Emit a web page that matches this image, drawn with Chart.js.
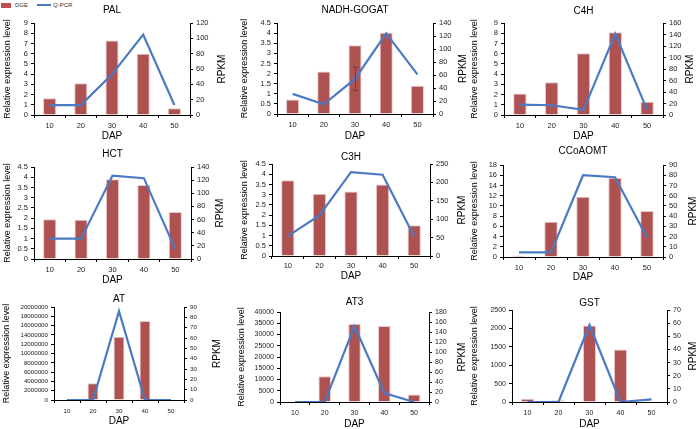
<!DOCTYPE html>
<html>
<head>
<meta charset="utf-8">
<script src="https://cdn.jsdelivr.net/npm/chart.js@4"></script>
<style>
	body { margin: 0; background: #fff; }
	#painel { position: relative; width: 700px; height: 429px; overflow: hidden; font-family: "Liberation Sans", Arial, sans-serif; }
	#painel canvas { position: absolute; }
	.leg { position: absolute; font-size: 6px; line-height: 6px; color: #333; }
</style>
</head>
<body>
<div id="painel">
	<div style="position:absolute;left:1px;top:3px;width:10px;height:5px;background:#c0504d"></div>
	<span class="leg" style="left:15px;top:2px">DGE</span>
	<div style="position:absolute;left:37px;top:4px;width:14px;height:2px;background:#4a7ac4"></div>
	<span class="leg" style="left:53px;top:2px">Q-PCR</span>
</div>
<script>
var dap = ['10', '20', '30', '40', '50'];

var palDge = [1.65, 3.1, 7.3, 6.0, 0.65];
var palQpcr = [13, 13, 53, 105, 13];

var nadhDge = [0.72, 2.1, 3.4, 4.02, 1.4];
var nadhQpcr = [31, 15, 54, 124, 61];
var nadhErro = [null, null, 18, null, null];

var c4hDge = [2.1, 3.2, 6.05, 8.1, 1.3];
var c4hQpcr = [18, 17, 9, 141, 9];

var hctDge = [1.95, 1.92, 3.9, 3.62, 2.3];
var hctQpcr = [31, 31, 127, 123, 15];

var c3hDge = [3.7, 3.05, 3.15, 3.5, 1.5];
var c3hQpcr = [54, 110, 228, 221, 53];

var ccoaomtDge = [0.3, 6.9, 11.8, 15.5, 9.0];
var ccoaomtQpcr = [4.6, 4.6, 80, 78, 19];

var atDge = [0, 3600000, 13600000, 17000000, 0];
var atQpcr = [0, 0, 86, 0, 0];

var at3Dge = [0, 11400, 34700, 33800, 3300];
var at3Qpcr = [0, 0, 152, 18, 0];

var gstDge = [90, 45, 2080, 1430, 0];
var gstQpcr = [0, 0, 58.6, 0, 2];

// eixo esquerdo [max, passo] e eixo direito [max, passo]
var eixoEsq = [[9, 1], [4.5, 0.5], [9, 1], [4.5, 0.5], [4.5, 0.5], [18, 2], [20000000, 2000000], [40000, 5000], [2500, 500]];
var eixoDir = [[120, 20], [140, 20], [160, 20], [140, 20], [250, 50], [90, 10], [90, 10], [180, 20], [70, 10]];

var nomes = ['PAL', 'NADH-GOGAT', 'C4H', 'HCT', 'C3H', 'CCoAOMT', 'AT', 'AT3', 'GST'];
var dge = [palDge, nadhDge, c4hDge, hctDge, c3hDge, ccoaomtDge, atDge, at3Dge, gstDge];
var qpcr = [palQpcr, nadhQpcr, c4hQpcr, hctQpcr, c3hQpcr, ccoaomtQpcr, atQpcr, at3Qpcr, gstQpcr];
var erros = [null, nadhErro, null, null, null, null, null, null, null];

// posicoes na pagina: celula [x, y, w, h], area [l, t, r, b], titulo y, rotulos x y, DAP y, titulo esq x, titulo dir x, fonte ticks
var layout = [
	{ cel: [0, 0, 236, 142], area: [34, 23, 190, 115], tit: 10, rot: 125, dap: 136, te: 8, td: 222, fs: 7.5 },
	{ cel: [232, 0, 240, 142], area: [277, 23, 433, 114], tit: 10, rot: 124, dap: 136, te: 245, td: 463, fs: 7.5 },
	{ cel: [464, 0, 236, 142], area: [504, 23, 663, 115], tit: 11, rot: 125, dap: 136, te: 475, td: 690, fs: 7.5 },
	{ cel: [0, 142, 236, 142], area: [34, 167, 191, 259], tit: 154, rot: 269, dap: 280, te: 8, td: 220, fs: 7.5 },
	{ cel: [232, 142, 240, 142], area: [272, 164, 430, 256], tit: 157, rot: 265, dap: 276, te: 245, td: 462, fs: 7.5 },
	{ cel: [464, 142, 236, 142], area: [503, 165, 663, 257], tit: 151, rot: 267, dap: 277, te: 475, td: 693, fs: 7.5 },
	{ cel: [0, 284, 236, 145], area: [54, 307, 184, 400], tit: 299, rot: 411, dap: 421, te: 7, td: 217, fs: 6.2 },
	{ cel: [232, 284, 240, 145], area: [280, 312, 429, 402], tit: 302, rot: 412, dap: 424, te: 242, td: 462, fs: 7 },
	{ cel: [464, 284, 236, 145], area: [512, 310, 667, 402], tit: 303, rot: 412, dap: 424, te: 475, td: 693, fs: 7 }
];

var FONTE = '"Liberation Sans", Arial, sans-serif';

function formata(v) {
	return String(Math.round(v * 100) / 100);
}

function criarGrafico(i) {
	var g = layout[i];
	var cx = g.cel[0], cy = g.cel[1], cw = g.cel[2], ch = g.cel[3];
	var cv = document.createElement('canvas');
	cv.width = cw;
	cv.height = ch;
	cv.style.left = cx + 'px';
	cv.style.top = cy + 'px';
	document.getElementById('painel').appendChild(cv);

	var erro = erros[i];
	var extras = {
		id: 'extras' + i,
		afterDatasetsDraw: function(chart) {
			var c = chart.ctx, a = chart.chartArea;
			c.save();
			if (erro) {
				c.strokeStyle = '#4d4d4d';
				c.lineWidth = 1;
				erro.forEach(function(e, k) {
					if (e == null) return;
					var x = Math.round(chart.scales.x.getPixelForValue(k)) + 0.5;
					var y1 = chart.scales.y1.getPixelForValue(qpcr[i][k] + e);
					var y2 = chart.scales.y1.getPixelForValue(qpcr[i][k] - e);
					c.beginPath();
					c.moveTo(x, y1); c.lineTo(x, y2);
					c.moveTo(x - 2.5, y1); c.lineTo(x + 2.5, y1);
					c.moveTo(x - 2.5, y2); c.lineTo(x + 2.5, y2);
					c.stroke();
				});
			}
			c.translate(g.td - cx, (a.top + a.bottom) / 2);
			c.rotate(-Math.PI / 2);
			c.font = '10px ' + FONTE;
			c.textAlign = 'center';
			c.textBaseline = 'middle';
			c.fillStyle = '#000';
			c.fillText('RPKM', 0, 0);
			c.restore();
		}
	};

	var ticksFonte = { size: g.fs, family: FONTE };
	var tituloFonte = { size: 10, family: FONTE };

	new Chart(cv.getContext('2d'), {
		type: 'bar',
		data: {
			labels: dap,
			datasets: [{
				type: 'line',
				label: 'Q-PCR',
				data: qpcr[i],
				yAxisID: 'y1',
				borderColor: '#4a7ac4',
				borderWidth: 2.2,
				pointRadius: 0,
				tension: 0,
				order: 0
			}, {
				type: 'bar',
				label: 'DGE',
				data: dge[i],
				yAxisID: 'y',
				backgroundColor: '#ad5151',
				borderColor: '#ecc8c8',
				borderWidth: 1,
				barPercentage: 0.42,
				categoryPercentage: 1,
				order: 1
			}]
		},
		options: {
			responsive: false,
			animation: false,
			layout: { padding: 0 },
			plugins: {
				legend: { display: false },
				tooltip: { enabled: false },
				title: {
					display: true,
					text: nomes[i],
					fullSize: false,
					color: '#000',
					font: { size: 10, family: FONTE, weight: 'normal' },
					padding: { top: g.tit - cy - 6, bottom: g.area[1] - g.tit - 6 }
				}
			},
			scales: {
				x: {
					offset: true,
					grid: { display: true, drawOnChartArea: false, offset: true, tickLength: 3, color: '#000' },
					border: { color: '#000' },
					ticks: { font: ticksFonte, color: '#222', padding: g.rot - g.area[3] - 6.5 },
					title: { display: true, text: 'DAP', color: '#000', font: tituloFonte, padding: { top: 0, bottom: cy + ch - g.dap - 6 } },
					afterFit: function(s) { s.height = cy + ch - g.area[3]; }
				},
				y: {
					position: 'left',
					min: 0,
					max: eixoEsq[i][0],
					grid: { drawOnChartArea: false, tickLength: 3, color: '#000' },
					border: { color: '#000' },
					ticks: { stepSize: eixoEsq[i][1], autoSkip: false, font: ticksFonte, color: '#222', padding: 3, callback: formata },
					title: { display: true, text: 'Relative expression level', color: '#000', font: { size: 9, family: FONTE }, padding: { top: g.te - cx - 5.4, bottom: 0 } },
					afterFit: function(s) { s.width = g.area[0] - cx; }
				},
				y1: {
					position: 'right',
					min: 0,
					max: eixoDir[i][0],
					grid: { drawOnChartArea: false, tickLength: 3, color: '#000' },
					border: { color: '#000' },
					ticks: { stepSize: eixoDir[i][1], autoSkip: false, font: ticksFonte, color: '#222', padding: 3, callback: formata },
					afterFit: function(s) { s.width = cx + cw - g.area[2]; }
				}
			}
		},
		plugins: [extras]
	});
}

for (var i = 0; i < nomes.length; i++) {
	criarGrafico(i);
}
</script>
</body>
</html>
